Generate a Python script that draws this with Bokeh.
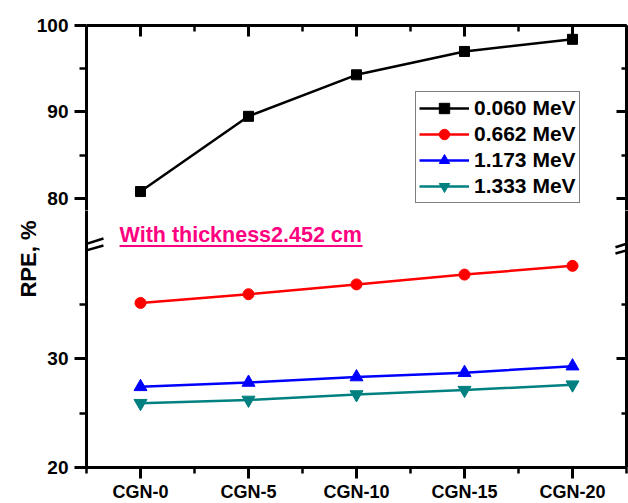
import numpy as np
from bokeh.plotting import figure
from bokeh.models import (Range1d, LinearAxis, FixedTicker, Legend, LegendItem,
                          Label, Arrow, Title)
from bokeh.layouts import column
from bokeh.embed import file_html
from bokeh.resources import INLINE

# ---------------- data ----------------
categories = ["CGN-0", "CGN-5", "CGN-10", "CGN-15", "CGN-20"]
rpe_0060 = [80.8, 89.5, 94.3, 97.0, 98.4]
rpe_0662 = [35.1, 35.9, 36.8, 37.7, 38.5]
rpe_1173 = [27.4, 27.8, 28.3, 28.7, 29.3]
rpe_1333 = [25.9, 26.2, 26.7, 27.1, 27.6]
series_labels = ["0.060 MeV", "0.662 MeV", "1.173 MeV", "1.333 MeV"]
upper_ticks = [80, 90, 100]
upper_minor = [85, 95]
lower_ticks = [20, 30]
lower_minor = [25, 35]
annotation_text = "With thickness2.452 cm"
y_label = "RPE, %"

# ---------------- style ----------------
FONT = "Liberation Sans"
series = [
    (rpe_0060, "black", "square", 10),
    (rpe_0662, "#FF0000", "circle", 11),
    (rpe_1173, "#0000FF", "triangle", 13),
    (rpe_1333, "#008080", "inverted_triangle", 13),
]
x = list(range(len(categories)))
x_minor = [i - 0.5 for i in range(len(categories) + 1)]
xr = Range1d(-0.5, len(categories) - 0.5)

FRAME_W = 540
LEFT_B = 86
RIGHT_B = 2


def base_axis(ax, major_out, major_in, minor_out, minor_in):
    ax.axis_line_width = 3
    ax.axis_line_color = "black"
    ax.major_tick_line_width = 3
    ax.minor_tick_line_width = 2.5
    ax.major_tick_line_color = "black"
    ax.minor_tick_line_color = "black"
    ax.major_tick_out = major_out
    ax.major_tick_in = major_in
    ax.minor_tick_out = minor_out
    ax.minor_tick_in = minor_in
    ax.major_label_text_font = FONT
    ax.major_label_text_font_style = "bold"
    ax.major_label_text_color = "black"


def hidden_labels(ax, ticks):
    ax.major_label_overrides = {t: "" for t in ticks}
    ax.major_label_standoff = 0


def make_panel(y_start, y_end, frame_h, top_b, bottom_b, ticks, minor):
    p = figure(frame_width=FRAME_W, frame_height=frame_h, x_range=xr,
               y_range=Range1d(y_start, y_end),
               x_axis_location=None, y_axis_location=None,
               toolbar_location=None, output_backend="svg",
               min_border_left=LEFT_B, min_border_right=RIGHT_B,
               min_border_top=top_b, min_border_bottom=bottom_b)
    p.outline_line_color = None
    p.background_fill_color = "white"
    p.border_fill_color = "white"
    p.xgrid.grid_line_color = None
    p.ygrid.grid_line_color = None

    left = LinearAxis(ticker=FixedTicker(ticks=ticks, minor_ticks=minor))
    base_axis(left, 12, 0, 7, 0)
    left.major_label_text_font_size = "19px"
    left.major_label_standoff = 6
    p.add_layout(left, "left")

    right = LinearAxis(ticker=FixedTicker(ticks=ticks, minor_ticks=minor))
    base_axis(right, 0, 10, 0, 5)
    hidden_labels(right, ticks)
    p.add_layout(right, "right")

    rends = []
    for vals, color, marker, size in series:
        ln = p.line(x, vals, line_color=color, line_width=2.5)
        sc = p.scatter(x, vals, marker=marker, size=size,
                       fill_color=color, line_color=color)
        rends.append((ln, sc))
    return p, rends


# upper panel (75-100 part)
up, up_rends = make_panel(78.61, 100, 185, 25, 0, upper_ticks, upper_minor)
top = LinearAxis(ticker=FixedTicker(ticks=x, minor_ticks=x_minor))
base_axis(top, 0, 11, 0, 6)
hidden_labels(top, x)
up.add_layout(top, "above")

items = [LegendItem(label=lab, renderers=list(r))
         for lab, r in zip(series_labels, up_rends)]
legend = Legend(items=items, location=(329, 7))
legend.label_text_font = FONT
legend.label_text_font_style = "bold"
legend.label_text_font_size = "21px"
legend.label_text_color = "black"
legend.glyph_width = 50
legend.glyph_height = 26
legend.label_height = 26
legend.label_standoff = 5
legend.spacing = 0
legend.padding = 3
legend.margin = 0
legend.border_line_color = "black"
legend.border_line_width = 1
legend.background_fill_alpha = 1
up.add_layout(legend)

# lower panel (20-40 part)
lo, lo_rends = make_panel(20, 43.58, 257, 0, 36, lower_ticks, lower_minor)
bottom = LinearAxis(ticker=FixedTicker(ticks=x, minor_ticks=x_minor))
base_axis(bottom, 11, 0, 6, 0)
bottom.major_label_text_font_size = "18px"
bottom.major_label_standoff = 3
bottom.major_label_overrides = {i: c for i, c in enumerate(categories)}
lo.add_layout(bottom, "below")

# y-axis title, placed at the top end of the lower panel (near the break)
lo.add_layout(Title(text=y_label, align="right", offset=10,
                    standoff=7, text_font=FONT, text_font_style="bold",
                    text_font_size="22px", text_color="black"), "left")

# annotation text with underline
lo.add_layout(Label(x=-0.194, y=41.37, text=annotation_text,
                    text_font=FONT, text_font_style="bold",
                    text_font_size="21.5px", text_color="#FF0080",
                    text_align="left", text_baseline="alphabetic"))
lo.add_layout(Arrow(end=None, x_start=-0.194, y_start=40.32,
                    x_end=2.056, y_end=40.32,
                    line_color="#FF0080", line_width=2))

# axis-break marks
for xs in (-0.5, 4.5):
    for (y0, y1) in ((40.21, 41.01), (39.63, 40.37)):
        lo.add_layout(Arrow(end=None, x_start=xs - 0.102, y_start=y0,
                            x_end=xs + 0.157, y_end=y1,
                            line_color="black", line_width=2.5))

layout = column(up, lo)
open("out.html", "w").write(file_html(layout, INLINE))
